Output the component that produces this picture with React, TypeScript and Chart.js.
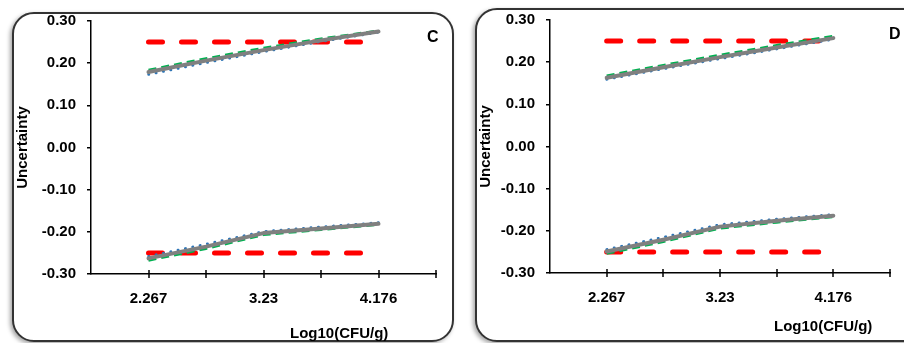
import React, { useEffect, useRef } from "react";
import { Chart, registerables } from "chart.js";

Chart.register(...registerables);

// x positions (category index) and their tick labels
const xIndex = [0, 1, 2, 3, 4];
const xTickLabels = ["2.267", "", "3.23", "", "4.176"];

// limits
const limitUpper = [0.25, 0.25, 0.25, 0.25, 0.25];
const limitLower = [-0.25, -0.25, -0.25, -0.25, -0.25];

// Panel C
const cUpperGray = [0.179, 0.206, 0.231, 0.254, 0.275];
const cUpperBlue = [0.173, 0.201, 0.227, 0.251, 0.273];
const cUpperGreen = [0.184, 0.211, 0.236, 0.258, 0.277];
const cLowerGray = [-0.263, -0.235, -0.203, -0.192, -0.181];
const cLowerBlue = [-0.258, -0.229, -0.199, -0.188, -0.178];
const cLowerGreen = [-0.268, -0.24, -0.207, -0.195, -0.183];

// Panel D
const dUpperGray = [0.163, 0.188, 0.212, 0.235, 0.257];
const dUpperBlue = [0.159, 0.184, 0.208, 0.231, 0.254];
const dUpperGreen = [0.168, 0.193, 0.217, 0.24, 0.262];
const dLowerGray = [-0.249, -0.221, -0.19, -0.176, -0.164];
const dLowerBlue = [-0.244, -0.215, -0.185, -0.172, -0.161];
const dLowerGreen = [-0.254, -0.226, -0.194, -0.18, -0.167];

const FONT = "'Liberation Sans', Arial, sans-serif";

const pts = (arr: number[]) => arr.map((v, i) => ({ x: xIndex[i], y: v }));

const crossTicks = {
  id: "crossTicks",
  afterDatasetsDraw(chart: any) {
    const xs = chart.scales.x;
    const ctx = chart.ctx;
    const y = chart.chartArea.bottom;
    ctx.save();
    ctx.strokeStyle = "#000";
    ctx.lineWidth = 1.5;
    xs.ticks.forEach((t: any) => {
      if (t.value < 0) return;
      const px = Math.round(xs.getPixelForValue(t.value));
      ctx.beginPath();
      ctx.moveTo(px, y - 4);
      ctx.lineTo(px, y + 4);
      ctx.stroke();
    });
    ctx.restore();
  },
};

type PanelProps = {
  series: { gray: number[]; blue: number[]; green: number[] }[];
  left: number;
  width: number;
  padTop: number;
  padRight: number;
  yw: number;
  xh: number;
  titlePad: number;
};

function Panel(p: PanelProps) {
  const ref = useRef<HTMLCanvasElement | null>(null);
  useEffect(() => {
    if (!ref.current) return;
    const datasets: any[] = [];
    p.series.forEach((s) => {
      datasets.push({
        data: pts(s.gray),
        borderColor: "#808080",
        borderWidth: 4,
        borderCapStyle: "round",
        borderJoinStyle: "round",
      });
    });
    p.series.forEach((s) => {
      datasets.push({
        data: pts(s.green),
        borderColor: "#00B050",
        borderWidth: 2.5,
        borderDash: [8, 5],
      });
    });
    p.series.forEach((s) => {
      datasets.push({
        data: pts(s.blue),
        borderColor: "#2E75B6",
        borderWidth: 2.5,
        borderDash: [0.5, 7],
        borderCapStyle: "round",
      });
    });
    [limitUpper, limitLower].forEach((l) => {
      datasets.push({
        data: pts(l),
        borderColor: "#FF0000",
        borderWidth: 5,
        borderDash: [14, 19],
        borderCapStyle: "round",
      });
    });
    const chart = new Chart(ref.current, {
      type: "line",
      data: { datasets },
      options: {
        responsive: false,
        animation: false,
        layout: { padding: { left: 0, top: p.padTop, right: p.padRight, bottom: 0 } },
        elements: { point: { radius: 0 }, line: { tension: 0 } },
        plugins: { legend: { display: false }, tooltip: { enabled: false } },
        scales: {
          x: {
            type: "linear",
            min: -1,
            max: 5,
            ticks: {
              stepSize: 1,
              autoSkip: false,
              maxRotation: 0,
              padding: 16,
              color: "#000",
              font: { family: FONT, size: 15, weight: "bold" },
              callback: (v: any) => {
                const i = Math.round(Number(v));
                return xTickLabels[i] ?? "";
              },
            },
            grid: { display: true, drawOnChartArea: false, drawTicks: false },
            border: { display: true, color: "#000", width: 1.5 },
            afterFit: (s: any) => {
              s.height = p.xh;
            },
          },
          y: {
            type: "linear",
            min: -0.3,
            max: 0.3,
            ticks: {
              stepSize: 0.1,
              padding: 11,
              color: "#000",
              font: { family: FONT, size: 15, weight: "bold" },
              callback: (v: any) => {
                const n = Number(v);
                return Math.abs(n) < 1e-9 ? "0.00" : n.toFixed(2);
              },
            },
            grid: {
              display: true,
              drawOnChartArea: false,
              drawTicks: true,
              tickLength: 4,
              color: "#000",
              lineWidth: 1.5,
            },
            border: { display: true, color: "#000", width: 1.5 },
            title: {
              display: true,
              text: "Uncertainty",
              color: "#000",
              font: { family: FONT, size: 15, weight: "bold" },
              padding: { top: p.titlePad, bottom: 0 },
            },
            afterFit: (s: any) => {
              s.width = p.yw;
            },
          },
        },
      } as any,
      plugins: [crossTicks],
    });
    return () => chart.destroy();
  }, []);
  return (
    <canvas
      ref={ref}
      width={p.width}
      height={343}
      style={{ position: "absolute", left: p.left, top: 0, width: p.width, height: 343 }}
    />
  );
}

const frameStyle: React.CSSProperties = {
  position: "absolute",
  boxSizing: "border-box",
  border: "2px solid #333",
  borderRadius: 22,
  boxShadow: "-2px 2px 4px rgba(0,0,0,0.35)",
  background: "#fff",
};

const textStyle: React.CSSProperties = {
  position: "absolute",
  fontFamily: FONT,
  fontWeight: "bold",
  color: "#000",
  whiteSpace: "nowrap",
};

export default function App() {
  return (
    <div
      style={{
        position: "fixed",
        left: 0,
        top: 0,
        width: 904,
        height: 343,
        overflow: "hidden",
        background: "#fff",
      }}
    >
      <div style={{ ...frameStyle, left: 12, top: 12, width: 442, height: 330 }} />
      <div style={{ ...frameStyle, left: 475, top: 8, width: 470, height: 334 }} />
      <Panel
        series={[
          { gray: cUpperGray, blue: cUpperBlue, green: cUpperGreen },
          { gray: cLowerGray, blue: cLowerBlue, green: cLowerGreen },
        ]}
        left={0}
        width={452}
        padTop={21}
        padRight={13}
        yw={91}
        xh={69}
        titlePad={14}
      />
      <Panel
        series={[
          { gray: dUpperGray, blue: dUpperBlue, green: dUpperGreen },
          { gray: dLowerGray, blue: dLowerBlue, green: dLowerGreen },
        ]}
        left={460}
        width={446}
        padTop={17}
        padRight={1}
        yw={90}
        xh={70}
        titlePad={17}
      />
      <div style={{ ...textStyle, left: 427, top: 29, fontSize: 16, lineHeight: "16px" }}>C</div>
      <div style={{ ...textStyle, left: 889, top: 26, fontSize: 16, lineHeight: "16px" }}>D</div>
      <div style={{ ...textStyle, left: 290, top: 325, fontSize: 15, lineHeight: "15px" }}>Log10(CFU/g)</div>
      <div style={{ ...textStyle, left: 774, top: 318, fontSize: 15, lineHeight: "15px" }}>Log10(CFU/g)</div>
    </div>
  );
}
